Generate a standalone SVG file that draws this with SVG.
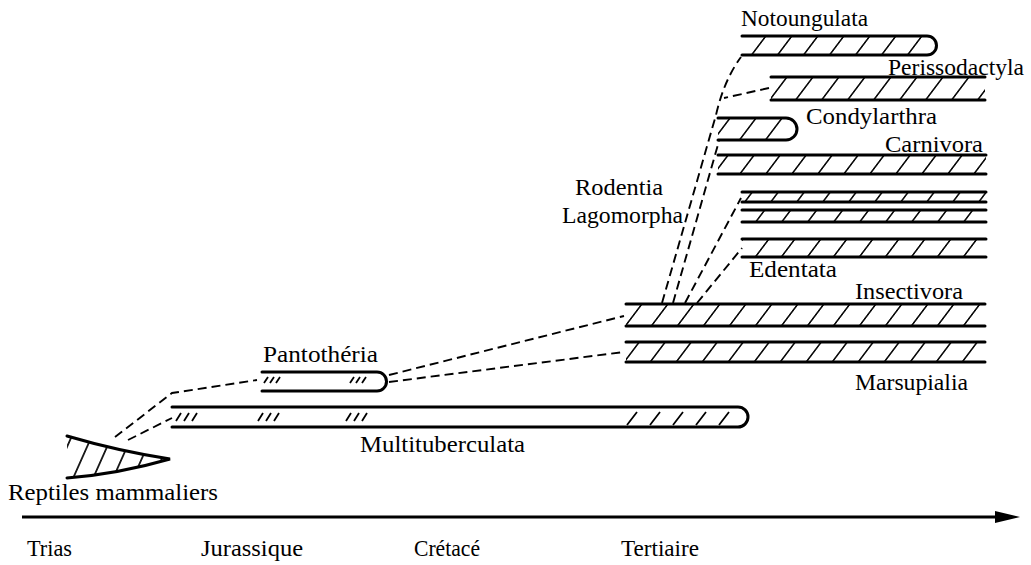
<svg xmlns="http://www.w3.org/2000/svg" width="1031" height="565" viewBox="0 0 1031 565">
<style>
.bar{fill:none;stroke:#000;stroke-width:3;stroke-linecap:round}
.hf{fill:url(#h);stroke:none}
.hs{fill:none;stroke:#000;stroke-width:1.8}
.dash{fill:none;stroke:#000;stroke-width:1.9;stroke-dasharray:9 5}
text{font-family:"Liberation Serif","Times New Roman",serif;font-size:24px;fill:#000}
</style>
<defs>
<pattern id="h" patternUnits="userSpaceOnUse" width="26" height="40" patternTransform="skewX(-37)">
<line x1="13" y1="0" x2="13" y2="40" stroke="#000" stroke-width="1.9"/>
</pattern>
<pattern id="hw" patternUnits="userSpaceOnUse" width="20" height="60" patternTransform="skewX(-24)">
<line x1="6" y1="0" x2="6" y2="60" stroke="#000" stroke-width="1.8"/>
</pattern>
</defs>

<g id="connectors">
<polyline class="dash" points="115,437 172,393 257,380"/>
<line class="dash" x1="128" y1="440" x2="172" y2="418"/>
<line class="dash" x1="389" y1="375" x2="624" y2="316"/>
<line class="dash" x1="389" y1="382" x2="624" y2="352"/>
<path class="dash" d="M662,303 L716,115 Q724,80 741,57"/>
<line class="dash" x1="769" y1="88" x2="724" y2="98"/>
<line class="dash" x1="673" y1="303" x2="719" y2="141"/>
<line class="dash" x1="685" y1="303" x2="741" y2="198"/>
<line class="dash" x1="697" y1="303" x2="742" y2="248"/>
</g>

<g id="reptiles">
<clipPath id="wc"><path d="M67,436 Q118,451 170,459 Q118,474 67,478 Z"/></clipPath>
<rect x="66" y="430" width="106" height="50" fill="url(#hw)" clip-path="url(#wc)"/>
<path class="bar" d="M67,436 Q118,451 170,459 Q118,474 67,478"/>
<text x="8" y="500" textLength="210" lengthAdjust="spacingAndGlyphs">Reptiles mammaliers</text>
</g>

<g id="multituberculata">
<path class="bar" d="M172,407 H738 A10,10 0 0 1 738,427 H172"/>
<path class="hs" d="M176,421 l5,-8 M184,421 l5,-8 M192,421 l5,-8 M258,421 l5,-8 M266,421 l5,-8 M274,421 l5,-8 M346,421 l5,-8 M354,421 l5,-8 M362,421 l5,-8 M627,425 l10,-13 M650,425 l10,-13 M673,425 l10,-13 M696,425 l10,-13 M719,425 l10,-13"/>
<text x="360" y="452" textLength="165" lengthAdjust="spacingAndGlyphs">Multituberculata</text>
</g>

<g id="pantotheria">
<path class="bar" d="M262,372 H377 A9.5,9.5 0 0 1 377,391 H262"/>
<path class="hs" d="M264,383 l4,-6 M270,383 l4,-6 M276,383 l4,-6 M350,383 l4,-6 M356,383 l4,-6 M362,383 l4,-6"/>
<text x="263" y="362" textLength="115" lengthAdjust="spacingAndGlyphs">Pantothéria</text>
</g>

<g id="marsupialia">
<rect class="hf" x="626" y="343" width="359" height="18"/>
<path class="bar" d="M626,342 H985 M626,362 H985"/>
<text x="855" y="390" textLength="113" lengthAdjust="spacingAndGlyphs">Marsupialia</text>
</g>

<g id="insectivora">
<rect class="hf" x="626" y="305" width="359" height="20"/>
<path class="bar" d="M626,304 H985 M626,326 H985"/>
<text x="855" y="299" textLength="108" lengthAdjust="spacingAndGlyphs">Insectivora</text>
</g>

<g id="edentata">
<rect class="hf" x="742" y="240" width="244" height="16"/>
<path class="bar" d="M742,239 H986 M742,257 H986"/>
<text x="749" y="277" textLength="88" lengthAdjust="spacingAndGlyphs">Edentata</text>
</g>

<g id="rodentia-lagomorpha">
<rect class="hf" x="742" y="193" width="244" height="8"/>
<rect class="hf" x="742" y="211" width="244" height="10"/>
<path class="bar" d="M742,192 H986 M742,202 H986 M742,210 H986 M742,222 H986"/>
<text x="575" y="195" textLength="88" lengthAdjust="spacingAndGlyphs">Rodentia</text>
<text x="562" y="223" textLength="121" lengthAdjust="spacingAndGlyphs">Lagomorpha</text>
</g>

<g id="carnivora">
<rect class="hf" x="718" y="156" width="268" height="17"/>
<path class="bar" d="M718,155 H986 M718,174 H986"/>
<text x="885" y="152" textLength="98" lengthAdjust="spacingAndGlyphs">Carnivora</text>
</g>

<g id="condylarthra">
<path class="hf" d="M718,119 H786 A10.5,10.5 0 0 1 786,139 H718 Z"/>
<path class="bar" d="M718,118 H786 A11,11 0 0 1 786,140 H718"/>
<text x="806" y="124" textLength="131" lengthAdjust="spacingAndGlyphs">Condylarthra</text>
</g>

<g id="perissodactyla">
<rect class="hf" x="771" y="78" width="214" height="21"/>
<path class="bar" d="M771,77 H985 M771,100 H985"/>
<text x="888" y="75" textLength="136" lengthAdjust="spacingAndGlyphs">Perissodactyla</text>
</g>

<g id="notoungulata">
<path class="hf" d="M742,37 H927 A9,9 0 0 1 927,54 H742 Z"/>
<path class="bar" d="M742,36 H927 A9.5,9.5 0 0 1 927,55 H742"/>
<text x="741" y="26" textLength="127" lengthAdjust="spacingAndGlyphs">Notoungulata</text>
</g>

<g id="axis">
<line x1="22" y1="517" x2="1000" y2="517" stroke="#000" stroke-width="3"/>
<polygon points="995,511 1020,517 995,523" fill="#000"/>
<text x="27" y="556" textLength="45" lengthAdjust="spacingAndGlyphs">Trias</text>
<text x="201" y="556" textLength="102" lengthAdjust="spacingAndGlyphs">Jurassique</text>
<text x="414" y="556" textLength="66" lengthAdjust="spacingAndGlyphs">Crétacé</text>
<text x="621" y="556" textLength="78" lengthAdjust="spacingAndGlyphs">Tertiaire</text>
</g>
</svg>
